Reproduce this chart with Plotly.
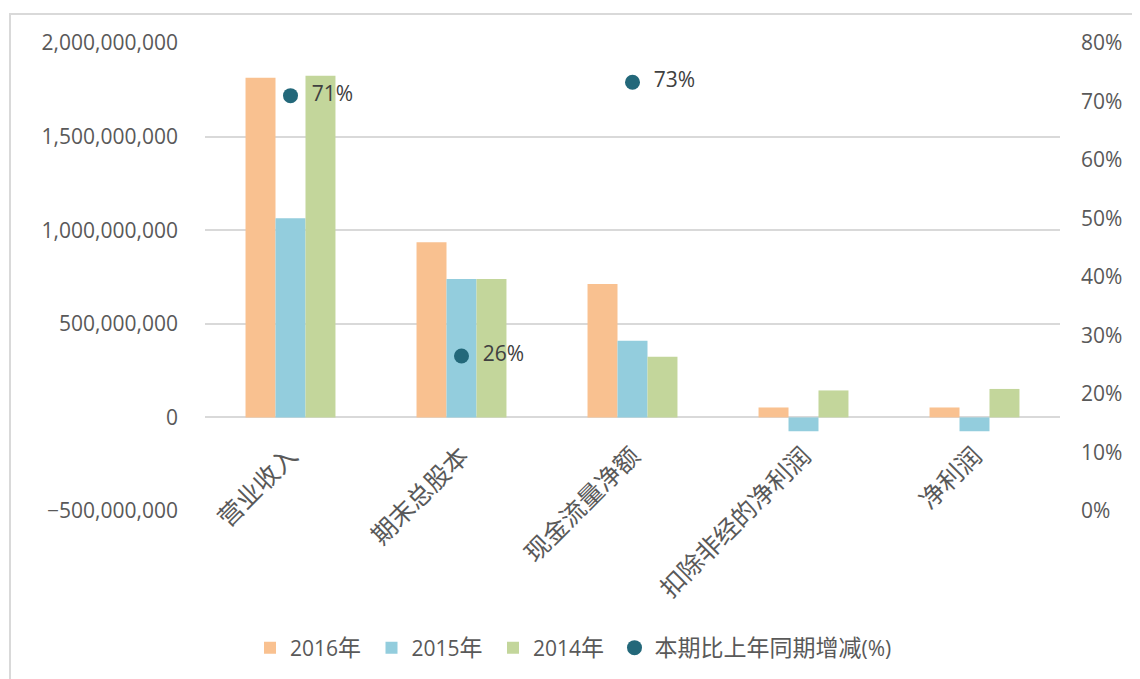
import plotly.graph_objects as go

categories = ["营业收入", "期末总股本", "现金流量净额", "扣除非经的净利润", "净利润"]
series_years = ["2016", "2015", "2014"]
v2016 = [1815000000, 936000000, 712000000, 53000000, 53000000]
v2015 = [1064000000, 739000000, 410000000, -74000000, -74000000]
v2014 = [1825000000, 739000000, 324000000, 144000000, 152000000]
yoy_name_cjk = "本期比上年同期增减"
yoy_name_tail = "(%)"
yoy = [0.71, 0.265, 0.733, None, None]
yoy_labels = ["  71%", "  26%", "  73%", "", ""]

# page body has an 8px default margin; figure pixels are offset by it
OFF = 8
W, H = 1140 - OFF, 679 - OFF
ML, MT = 205 - OFF, 43 - OFF
MR = W - (1060 - OFF)
MB = H - (512 - OFF)
PW, PH = W - ML - MR, H - MT - MB

tick_font = dict(family="Open Sans, Noto Sans CJK SC", size=21, color="#595959")
LAT = '<span style="font-size:21px">{}</span>'
CJK = '<span style="font-size:23px">{}</span>'

fig = go.Figure()
for yr, vals, col in zip(series_years, [v2016, v2015, v2014], ["#F9C190", "#93CDDD", "#C3D69B"]):
    fig.add_trace(go.Bar(name=LAT.format(yr) + CJK.format("年") + LAT.format("\u00a0"), x=categories, y=vals,
                         marker=dict(color=col, line=dict(width=0))))
fig.add_trace(go.Scatter(name=CJK.format(yoy_name_cjk) + LAT.format(yoy_name_tail), x=categories, y=yoy, yaxis="y2",
                         mode="markers+text", text=yoy_labels, textposition="middle right",
                         textfont=dict(family="Open Sans, Noto Sans CJK SC", size=21, color="#404040"),
                         marker=dict(color="#23687A", size=15)))

zero_pos = (0 - (-500000000)) / (2000000000 - (-500000000))

legend_left_px = 250 - OFF

fig.update_layout(
    width=W, height=H,
    margin=dict(l=ML, r=MR, t=MT, b=MB),
    paper_bgcolor="white", plot_bgcolor="white",
    barmode="group", bargap=0.474, bargroupgap=0,
    font=tick_font,
    xaxis=dict(tickangle=-45, showline=False, showgrid=False, ticks="",
               anchor="free", position=zero_pos,
               tickfont=dict(family="Noto Sans CJK SC", size=25, color="#595959"),
               ticklabelstandoff=18),
    yaxis=dict(range=[-500000000, 2000000000], dtick=500000000, tickformat=",.0f",
               showgrid=True, gridcolor="#D9D9D9", gridwidth=1.5, zeroline=False,
               showline=False, ticks="", tickfont=tick_font, ticklabelstandoff=26),
    yaxis2=dict(range=[0, 0.8], dtick=0.1, tickformat=".0%", overlaying="y", side="right",
                showgrid=False, zeroline=False, showline=False, ticks="", tickfont=tick_font,
                ticklabelstandoff=20),
    legend=dict(orientation="h", x=(legend_left_px - ML) / PW, xanchor="left",
                y=-((648 - OFF) - (MT + PH)) / PH, yanchor="middle",
                font=dict(family="Open Sans, Noto Sans CJK SC", size=21, color="#595959"),
                traceorder="normal"),
    showlegend=True,
)

# outer chart border
fig.add_shape(type="rect", xref="paper", yref="paper",
              x0=(10 - OFF - ML) / PW, x1=(W + 20 - ML) / PW,
              y0=-(H + 20 - (MT + PH)) / PH, y1=(MT + PH - (14 - OFF)) / PH,
              line=dict(color="#D9D9D9", width=2), fillcolor="rgba(0,0,0,0)", layer="below")

fig.write_html("out.html")
